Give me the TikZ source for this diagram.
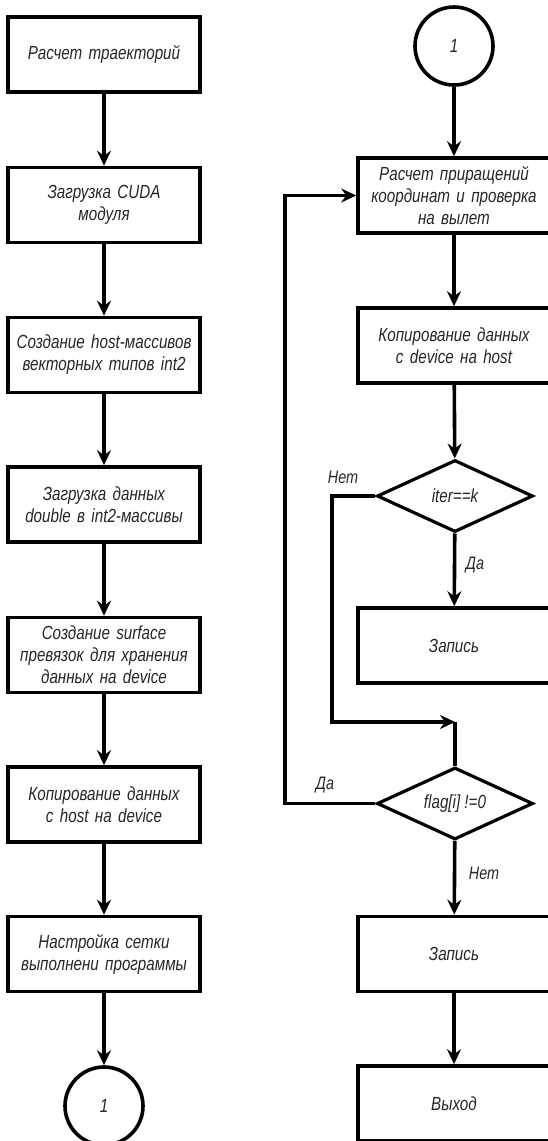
\documentclass[tikz,border=0pt]{standalone}
\usepackage{fontspec}
\setmainfont{Liberation Sans}[FakeStretch=0.8]
\usetikzlibrary{arrows.meta,shapes.geometric}
\begin{document}
\begin{tikzpicture}[x=1pt,y=-1pt,
  every node/.style={font=\fontsize{19}{22}\selectfont\itshape,text=black!85},
  blk/.style={draw=black,line width=3.6pt,minimum width=192pt,minimum height=75pt,inner sep=0pt,align=center,text width=192pt},
  conn/.style={draw=black,line width=3.6pt,circle,minimum size=78pt,inner sep=0pt},
  dec/.style={draw=black,line width=3.2pt,diamond,aspect=2.2,minimum width=156pt,minimum height=72pt,inner sep=0pt},
  ln/.style={line width=3.6pt},
  arr/.style={line width=3.6pt,-{Stealth[length=15pt,width=14pt,inset=5pt]}},
  lbl/.style={font=\fontsize{18}{20}\selectfont\itshape}]
\useasboundingbox (0,0) rectangle (547,1141);
% left column
\node[blk] (l1) at (104,54.5) {Расчет траекторий};
\node[blk] (l2) at (104,205) {Загрузка CUDA\\модуля};
\node[blk] (l3) at (104,355) {Создание host-массивов\\векторных типов int2};
\node[blk] (l4) at (104,504.5) {Загрузка данных\\double в int2-массивы};
\node[blk] (l5) at (104,655) {Создание surface\\превязок для хранения\\данных на device};
\node[blk] (l6) at (104,804.5) {Копирование данных\\с host на device};
\node[blk] (l7) at (104,954) {Настройка сетки\\выполнени программы};
\node[conn] (lc) at (104,1106) {1};
\draw[arr] (l1) -- (l2);
\draw[arr] (l2) -- (l3);
\draw[arr] (l3) -- (l4);
\draw[arr] (l4) -- (l5);
\draw[arr] (l5) -- (l6);
\draw[arr] (l6) -- (l7);
\draw[arr] (l7) -- (lc);
% right column
\node[conn] (rc) at (454,46) {1};
\node[blk] (r1) at (454,195.5) {Расчет приращений\\координат и проверка\\на вылет};
\node[blk] (r2) at (454,345.5) {Копирование данных\\с device на host};
\node[dec] (d1) at (455,496) {iter==k};
\node[blk] (r3) at (454,645.5) {Запись};
\node[dec] (d2) at (455,803.5) {flag[i] !=0};
\node[blk] (r4) at (454,954) {Запись};
\node[blk] (r5) at (454,1103.5) {Выход};
\coordinate (j) at (455,722);
\coordinate (lx) at (285,803.5);
\coordinate (ly) at (285,195.5);
\coordinate (nx) at (332,496);
\coordinate (ny) at (332,722);
\draw[arr] (rc) -- (r1);
\draw[arr] (r1) -- (r2);
\draw[arr] (r2) -- (d1);
\draw[arr] (d1) -- (r3);
\draw[arr] (d1.west) -- (nx) -- (ny) -- (j);
\draw[ln] (d2.north) -- (j);
\draw[arr] (d2.west) -- (lx) -- (ly) -- (r1.west);
\draw[arr] (d2) -- (r4);
\draw[arr] (r4) -- (r5);
\node[lbl] (n1) at (343,477) {Нет};
\node[lbl] (a1) at (475,565) {Да};
\node[lbl] (a2) at (325,785) {Да};
\node[lbl] (n2) at (484,873) {Нет};
\end{tikzpicture}
\end{document}
